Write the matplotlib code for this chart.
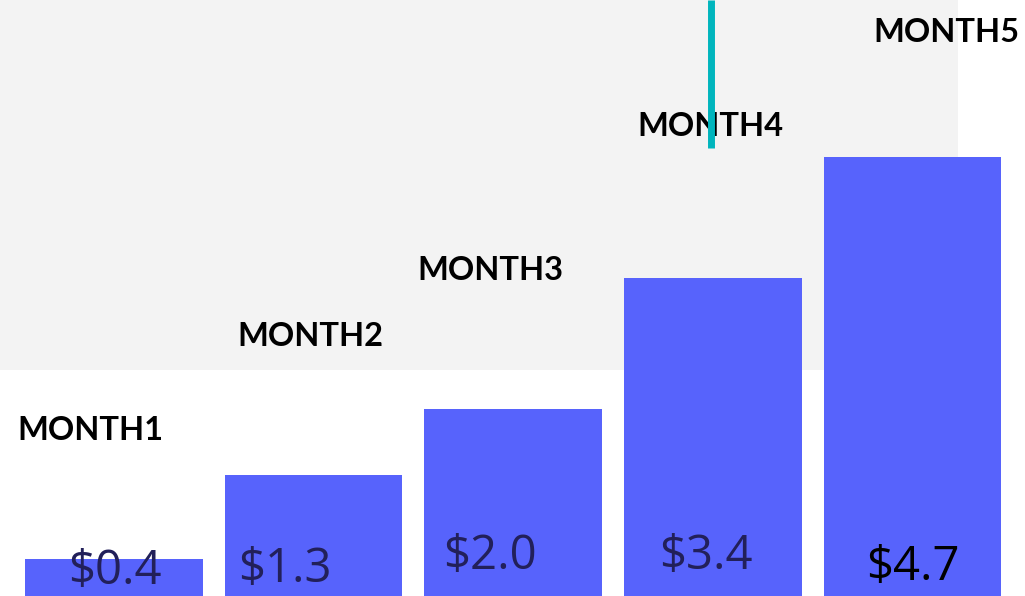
import matplotlib.pyplot as plt
from matplotlib.patches import Rectangle
from matplotlib.lines import Line2D

# data
months = ["MONTH1", "MONTH2", "MONTH3", "MONTH4", "MONTH5"]
revenue = [0.4, 1.3, 2.0, 3.4, 4.7]
value_labels = ["$0.4", "$1.3", "$2.0", "$3.4", "$4.7"]

# layout (pixels, top-left origin)
W, H = 1025, 596
month_xy = [(90, 430), (310, 336), (490, 271), (710, 126), (946, 32)]
value_xy = [(115, 571), (285, 569), (490, 556), (706, 556), (913, 567)]
value_colors = ["#22205a", "#22205a", "#22205a", "#22205a", "#000000"]
bar_color = "#5763fc"


def fx(x):
    return x / W


def fy(y):
    return 1 - y / H


fig = plt.figure(figsize=(W / 100, H / 100), dpi=100)
fig.patch.set_facecolor("white")

# textured grey panel behind the top of the chart (flat here)
fig.add_artist(Rectangle((0, fy(370)), fx(958), 370 / H, transform=fig.transFigure,
                         facecolor="#f3f3f3", edgecolor="none", zorder=0))

ax = fig.add_axes([0, 0, 1, 1])
ax.patch.set_alpha(0)
spacing = 199.6
ax.bar(range(len(revenue)), revenue, width=0.89, color=bar_color, zorder=2)
ax.set_xlim(-114 / spacing, (W - 114) / spacing)
ax.set_ylim(0, H / 93.4)
ax.axis("off")

for name, (x, y) in zip(months, month_xy):
    fig.text(fx(x), fy(y), name, ha="center", va="center", fontsize=23.5,
             fontweight="bold", family="Lato", color="black", zorder=5)

for lab, (x, y), c in zip(value_labels, value_xy, value_colors):
    fig.text(fx(x), fy(y), lab, ha="center", va="center", fontsize=34,
             family="Open Sans", color=c, zorder=5)

# teal accent line
fig.add_artist(Line2D([fx(710.5), fx(710.5)], [fy(0), fy(148)], transform=fig.transFigure,
                      color="#00b5bd", lw=5, solid_capstyle="butt", zorder=6))

fig.savefig("out.png", dpi=100)
